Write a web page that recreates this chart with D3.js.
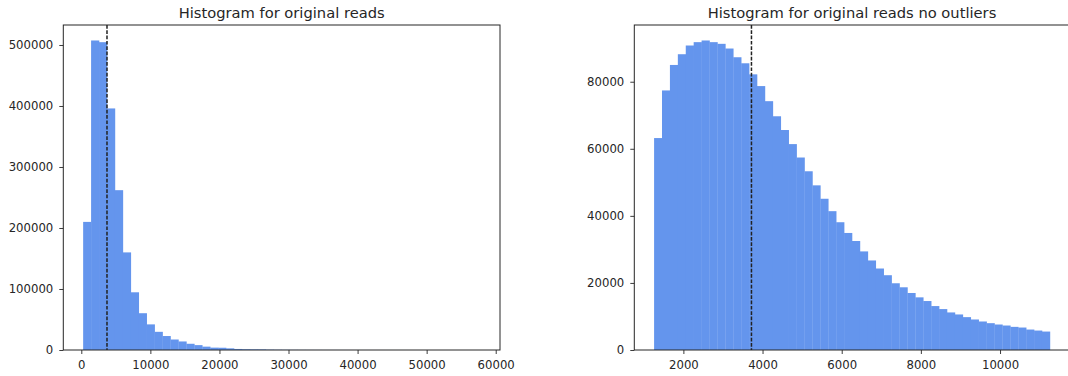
<!DOCTYPE html>
<html>
<head>
<meta charset="utf-8">
<script src="https://cdn.jsdelivr.net/npm/d3@7"></script>
<style>
  body { margin: 0; background: #fff; }
  svg { display: block; }
  .tick text { font-family: "DejaVu Sans", sans-serif; font-size: 11.7px; fill: #262626; }
  .title { font-family: "DejaVu Sans", sans-serif; font-size: 14.7px; fill: #262626; }
</style>
</head>
<body>
<svg id="chart" width="1068" height="376"></svg>
<script>
// left histogram: 50 bins between min and max read length
var allRange = [268, 57746];
var allCounts = [210000, 507400, 504600, 396000, 262000, 160000, 94600, 60300, 42000, 29800,
                 22900, 17200, 14000, 10200, 8000, 5500, 3900, 3700, 2700, 1700,
                 1300, 1100, 1000, 600, 450, 350, 250, 200, 150, 120,
                 100, 80, 60, 50, 40, 30, 25, 20, 15, 12,
                 10, 8, 6, 5, 4, 3, 2, 2, 1, 1];
var allXTicks = [0, 10000, 20000, 30000, 40000, 50000, 60000];
var allYTicks = [0, 100000, 200000, 300000, 400000, 500000];

// right histogram: outliers removed
var trimRange = [1260, 11260];
var trimCounts = [63200, 77400, 85000, 88200, 90800, 91800, 92300, 91800, 91300, 89900,
                  87300, 85500, 82200, 78700, 74200, 69700, 65600, 61400, 57400, 53300,
                  49100, 45100, 41400, 38100, 34900, 32500, 29400, 26700, 24300, 22300,
                  19900, 18700, 17000, 15700, 14600, 13100, 12200, 11200, 10600, 9800,
                  9100, 8500, 8000, 7600, 7300, 6900, 6700, 6100, 5800, 5500];
var trimXTicks = [2000, 4000, 6000, 8000, 10000];
var trimYTicks = [0, 20000, 40000, 60000, 80000];

var meanReads = 3720;

var svg = d3.select("#chart");

drawHist({
    title: "Histogram for original reads",
    range: allRange, counts: allCounts,
    xTicks: allXTicks, yTicks: allYTicks,
    left: 63.3, right: 500, top: 25, bottom: 350
});

drawHist({
    title: "Histogram for original reads no outliers",
    range: trimRange, counts: trimCounts,
    xTicks: trimXTicks, yTicks: trimYTicks,
    left: 634.3, right: 1069.7, top: 25, bottom: 350
});

function drawHist(o) {
    var n = o.counts.length;
    var span = o.range[1] - o.range[0];
    var binW = span / n;
    var pad = span * 0.05;

    var x = d3.scaleLinear()
        .domain([o.range[0] - pad, o.range[1] + pad])
        .range([o.left, o.right]);
    var y = d3.scaleLinear()
        .domain([0, d3.max(o.counts) * 1.05])
        .range([o.bottom, o.top]);

    var bins = o.counts.map(function (c, i) {
        return {x0: o.range[0] + i * binW, x1: o.range[0] + (i + 1) * binW, count: c};
    });

    var g = svg.append("g");

    g.selectAll("rect.bar")
        .data(bins)
        .enter().append("rect")
        .attr("class", "bar")
        .attr("x", function (d) { return x(d.x0); })
        .attr("width", function (d) { return x(d.x1) - x(d.x0) + 0.3; })
        .attr("y", function (d) { return y(d.count); })
        .attr("height", function (d) { return o.bottom - y(d.count); })
        .attr("fill", "#6495ED");

    // mean line
    g.append("line")
        .attr("x1", x(meanReads)).attr("x2", x(meanReads))
        .attr("y1", o.top).attr("y2", o.bottom)
        .attr("stroke", "#222")
        .attr("stroke-width", 1.5)
        .attr("stroke-dasharray", "3.7,1.6");

    var xAxis = d3.axisBottom(x).tickValues(o.xTicks).tickSize(4).tickPadding(6.5)
        .tickFormat(d3.format("d"));
    var yAxis = d3.axisLeft(y).tickValues(o.yTicks).tickSize(4).tickPadding(6)
        .tickFormat(d3.format("d"));

    g.append("g")
        .attr("transform", "translate(0," + o.bottom + ")")
        .call(xAxis)
        .call(function (s) { s.select(".domain").remove(); });
    g.append("g")
        .attr("transform", "translate(" + o.left + ",0)")
        .call(yAxis)
        .call(function (s) { s.select(".domain").remove(); });

    g.selectAll(".tick line").attr("stroke", "#262626").attr("stroke-width", 0.9);

    // frame
    g.append("rect")
        .attr("x", o.left).attr("y", o.top)
        .attr("width", o.right - o.left).attr("height", o.bottom - o.top)
        .attr("fill", "none")
        .attr("stroke", "#262626")
        .attr("stroke-width", 1);

    g.append("text")
        .attr("class", "title")
        .attr("x", (o.left + o.right) / 2)
        .attr("y", 17.5)
        .attr("text-anchor", "middle")
        .text(o.title);
}
</script>
</body>
</html>
